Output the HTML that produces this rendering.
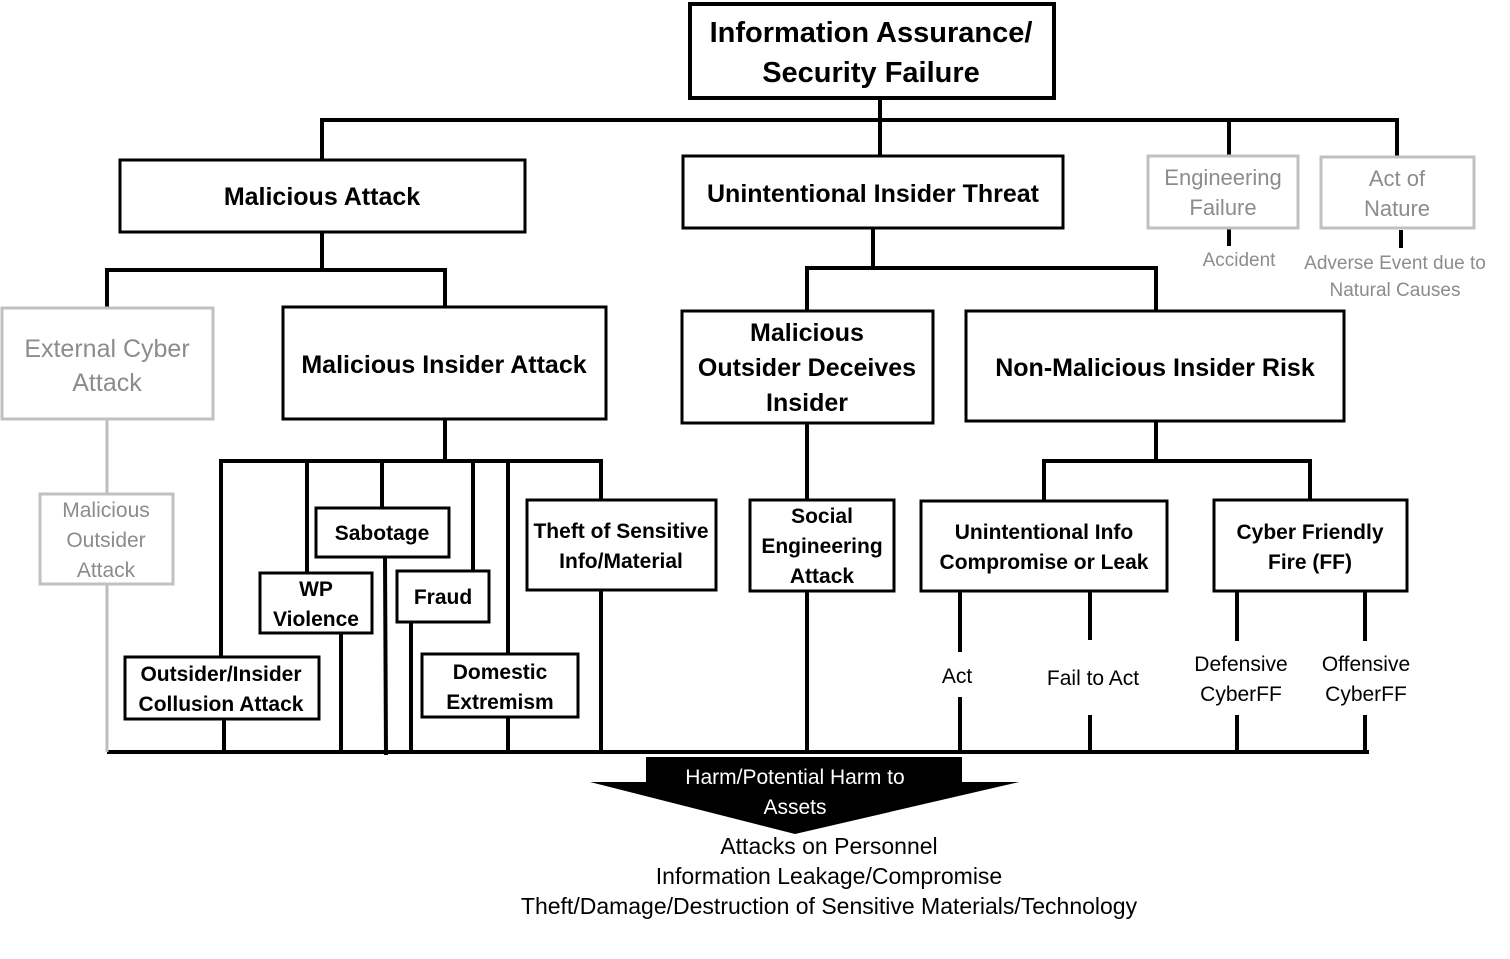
<!DOCTYPE html>
<html><head><meta charset="utf-8"><style>
html,body{margin:0;padding:0;background:#fff;}
svg{display:block;}
text{font-family:"Liberation Sans",sans-serif;text-anchor:middle;}
.b{font-weight:bold;fill:#000;}
.g{fill:#8c8c8c;}
</style></head><body>
<svg width="1510" height="959" viewBox="0 0 1510 959" xmlns="http://www.w3.org/2000/svg">
<g stroke="#000" stroke-width="4" fill="none">
<line x1="880" y1="99" x2="880" y2="155"/>
<line x1="320" y1="120" x2="1399" y2="120"/>
<line x1="322" y1="120" x2="322" y2="160"/>
<line x1="1229" y1="120" x2="1229" y2="156"/>
<line x1="1397" y1="120" x2="1397" y2="157"/>
<line x1="1229" y1="228" x2="1229" y2="246"/>
<line x1="1401" y1="230" x2="1401" y2="248"/>
<line x1="322" y1="232" x2="322" y2="270"/>
<line x1="105" y1="270" x2="447" y2="270"/>
<line x1="107" y1="270" x2="107" y2="308"/>
<line x1="445" y1="270" x2="445" y2="307"/>
<line x1="873" y1="228" x2="873" y2="268"/>
<line x1="805" y1="268" x2="1158" y2="268"/>
<line x1="807" y1="268" x2="807" y2="311"/>
<line x1="1156" y1="268" x2="1156" y2="311"/>
<line x1="445" y1="419" x2="445" y2="461"/>
<line x1="219" y1="461" x2="603" y2="461"/>
<line x1="221" y1="461" x2="221" y2="657"/>
<line x1="307" y1="461" x2="307" y2="573"/>
<line x1="382" y1="461" x2="382" y2="508"/>
<line x1="473" y1="461" x2="473" y2="571"/>
<line x1="508" y1="461" x2="508" y2="654"/>
<line x1="601" y1="461" x2="601" y2="500"/>
<line x1="224" y1="719" x2="224" y2="752"/>
<line x1="341" y1="633" x2="341" y2="752"/>
<line x1="385" y1="557" x2="386" y2="755"/>
<line x1="411" y1="622" x2="411" y2="752"/>
<line x1="508" y1="717" x2="508" y2="752"/>
<line x1="601" y1="590" x2="601" y2="752"/>
<line x1="807" y1="423" x2="807" y2="500"/>
<line x1="807" y1="591" x2="807" y2="752"/>
<line x1="1156" y1="421" x2="1156" y2="461"/>
<line x1="1042" y1="461" x2="1312" y2="461"/>
<line x1="1044" y1="461" x2="1044" y2="501"/>
<line x1="1310" y1="461" x2="1310" y2="500"/>
<line x1="960" y1="591" x2="960" y2="652"/>
<line x1="960" y1="697" x2="960" y2="752"/>
<line x1="1090" y1="591" x2="1090" y2="640"/>
<line x1="1090" y1="715" x2="1090" y2="752"/>
<line x1="1237" y1="591" x2="1237" y2="641"/>
<line x1="1237" y1="715" x2="1237" y2="752"/>
<line x1="1365" y1="591" x2="1365" y2="641"/>
<line x1="1365" y1="715" x2="1365" y2="752"/>
<line x1="107" y1="752" x2="1369" y2="752"/>
</g>
<line x1="107" y1="419" x2="107" y2="752" stroke="#bdbdbd" stroke-width="3"/>
<g stroke="#000" stroke-width="3" fill="#fff">
<rect x="690" y="4" width="364" height="94" stroke-width="4"/>
<rect x="120" y="160" width="405" height="72"/>
<rect x="683" y="156" width="380" height="72"/>
<rect x="283" y="307" width="323" height="112"/>
<rect x="682" y="311" width="251" height="112"/>
<rect x="966" y="311" width="378" height="110"/>
<rect x="316" y="508" width="133" height="49"/>
<rect x="260" y="573" width="112" height="60"/>
<rect x="397" y="571" width="92" height="51"/>
<rect x="125" y="657" width="194" height="62"/>
<rect x="422" y="654" width="156" height="63"/>
<rect x="527" y="500" width="189" height="90"/>
<rect x="750" y="500" width="144" height="91"/>
<rect x="921" y="501" width="246" height="90"/>
<rect x="1214" y="500" width="193" height="91"/>
</g>
<g stroke="#c0c0c0" stroke-width="3" fill="#fff">
<rect x="1148" y="156" width="150" height="72"/>
<rect x="1321" y="157" width="153" height="71"/>
<rect x="2" y="308" width="211" height="111"/>
<rect x="40" y="494" width="133" height="90"/>
</g>
<polygon points="646,757 962,757 962,782 1019,782 795,834 590,782 646,782" fill="#000"/>
<text x="795" y="784" style="font-size:21px" fill="#fff">Harm/Potential Harm to</text>
<text x="795" y="814" style="font-size:21px" fill="#fff">Assets</text>
<g class="b">
<text x="871" y="42" style="font-size:29px">Information Assurance/</text>
<text x="871" y="82" style="font-size:29px">Security Failure</text>
<text x="322" y="205" style="font-size:25px">Malicious Attack</text>
<text x="873" y="202" style="font-size:25px">Unintentional Insider Threat</text>
<text x="444" y="373" style="font-size:25px">Malicious Insider Attack</text>
<text x="807" y="341" style="font-size:25px">Malicious</text>
<text x="807" y="376" style="font-size:25px">Outsider Deceives</text>
<text x="807" y="411" style="font-size:25px">Insider</text>
<text x="1155" y="376" style="font-size:25px">Non-Malicious Insider Risk</text>
<text x="382" y="540" style="font-size:21px">Sabotage</text>
<text x="316" y="596" style="font-size:21px">WP</text>
<text x="316" y="626" style="font-size:21px">Violence</text>
<text x="443" y="604" style="font-size:21px">Fraud</text>
<text x="221" y="681" style="font-size:21px">Outsider/Insider</text>
<text x="221" y="711" style="font-size:21px">Collusion  Attack</text>
<text x="500" y="679" style="font-size:21px">Domestic</text>
<text x="500" y="709" style="font-size:21px">Extremism</text>
<text x="621" y="538" style="font-size:21px">Theft of Sensitive</text>
<text x="621" y="568" style="font-size:21px">Info/Material</text>
<text x="822" y="523" style="font-size:21px">Social</text>
<text x="822" y="553" style="font-size:21px">Engineering</text>
<text x="822" y="583" style="font-size:21px">Attack</text>
<text x="1044" y="539" style="font-size:21px">Unintentional Info</text>
<text x="1044" y="569" style="font-size:21px">Compromise or Leak</text>
<text x="1310" y="539" style="font-size:21px">Cyber Friendly</text>
<text x="1310" y="569" style="font-size:21px">Fire (FF)</text>
</g>
<g class="g">
<text x="1223" y="185" style="font-size:22px">Engineering</text>
<text x="1223" y="215" style="font-size:22px">Failure</text>
<text x="1397" y="186" style="font-size:22px">Act of</text>
<text x="1397" y="216" style="font-size:22px">Nature</text>
<text x="1239" y="266" style="font-size:19px">Accident</text>
<text x="1395" y="269" style="font-size:19px">Adverse Event due to</text>
<text x="1395" y="296" style="font-size:19px">Natural Causes</text>
<text x="107" y="357" style="font-size:25px">External Cyber</text>
<text x="107" y="391" style="font-size:25px">Attack</text>
<text x="106" y="517" style="font-size:21px">Malicious</text>
<text x="106" y="547" style="font-size:21px">Outsider</text>
<text x="106" y="577" style="font-size:21px">Attack</text>
</g>
<g fill="#000" style="font-size:21px">
<text x="957" y="683">Act</text>
<text x="1093" y="685">Fail to Act</text>
<text x="1241" y="671">Defensive</text>
<text x="1241" y="701">CyberFF</text>
<text x="1366" y="671">Offensive</text>
<text x="1366" y="701">CyberFF</text>
</g>
<g fill="#000" style="font-size:23px">
<text x="829" y="854">Attacks on Personnel</text>
<text x="829" y="884">Information Leakage/Compromise</text>
<text x="829" y="914">Theft/Damage/Destruction of Sensitive Materials/Technology</text>
</g>
</svg>
</body></html>
